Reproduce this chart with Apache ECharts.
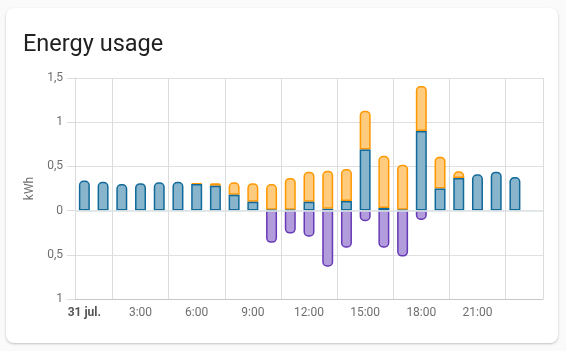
<!DOCTYPE html>
<html>
<head>
<meta charset="utf-8">
<script src="https://cdn.jsdelivr.net/npm/echarts@6/dist/echarts.min.js"></script>
<style>
  html, body { margin: 0; padding: 0; background: #fafafa; }
  #card {
    position: absolute; left: 6px; top: 8px; width: 552px; height: 335px;
    background: #fff; border-radius: 8px;
    box-shadow: 0 1px 2px rgba(0,0,0,0.18), 0 1px 4px rgba(0,0,0,0.06);
  }
  #main { position: absolute; left: 0; top: 0; width: 566px; height: 351px; }
</style>
</head>
<body>
<div id="card"></div>
<div id="main"></div>
<script>
// hourly buckets for 31 jul.
var hours = ['31 jul.', '1:00', '2:00', '3:00', '4:00', '5:00', '6:00', '7:00',
  '8:00', '9:00', '10:00', '11:00', '12:00', '13:00', '14:00', '15:00',
  '16:00', '17:00', '18:00', '19:00', '20:00', '21:00', '22:00', '23:00'];
// kWh from grid
var fromGrid = [0.34, 0.325, 0.30, 0.31, 0.32, 0.325, 0.30, 0.28, 0.18, 0.10, 0.01, 0.01,
  0.10, 0.02, 0.11, 0.69, 0.03, 0.01, 0.90, 0.25, 0.37, 0.41, 0.44, 0.38];
// kWh solar consumed
var fromSolar = [0, 0, 0, 0, 0, 0, 0.01, 0.03, 0.14, 0.21, 0.29, 0.36,
  0.34, 0.43, 0.36, 0.44, 0.59, 0.51, 0.51, 0.36, 0.075, 0, 0, 0];
// kWh returned to grid
var toGrid = [0, 0, 0, 0, 0, 0, 0, 0, 0, 0, -0.365, -0.26,
  -0.295, -0.635, -0.42, -0.12, -0.42, -0.52, -0.105, 0, 0, 0, 0, 0];
var yTicks = { min: -1, max: 1.5, step: 0.5 };

var myChart = echarts.init(document.getElementById('main'));

function noZero(v) { return v === 0 ? '-' : v; }

var option = {
    animation: false,
    textStyle: { fontFamily: 'Roboto' },
    title: {
        text: 'Energy usage',
        left: 23,
        top: 33,
        padding: 0,
        textStyle: { fontFamily: 'Roboto', fontSize: 23.5, fontWeight: 'normal', color: '#212121' }
    },
    grid: { left: 75, right: 23, top: 78, bottom: 52 },
    xAxis: {
        type: 'category',
        data: hours.concat(['']),
        axisLine: { onZero: false, lineStyle: { color: '#c8c8c8' } },
        axisTick: {
            length: 8,
            interval: function (i) { return i % 3 === 2; },
            lineStyle: { color: '#dcdcdc' }
        },
        splitLine: {
            show: true,
            interval: function (i) { return i % 3 === 2; },
            lineStyle: { color: '#dcdcdc' }
        },
        axisLabel: {
            interval: function (i) { return i % 3 === 0 && i < hours.length; },
            margin: 8,
            color: '#6f6f6f',
            fontSize: 12,
            formatter: function (v, i) {
                return i === 0 ? '{b|' + v + '}' : v;
            },
            rich: { b: { fontWeight: 'bold', color: '#555', fontSize: 12 } }
        }
    },
    yAxis: {
        type: 'value',
        min: yTicks.min,
        max: yTicks.max,
        interval: yTicks.step,
        name: 'kWh',
        nameLocation: 'middle',
        nameGap: 33,
        nameTextStyle: { color: '#6f6f6f', fontSize: 12 },
        axisLine: { show: true, lineStyle: { color: '#dcdcdc' } },
        axisTick: { show: true, length: 8, lineStyle: { color: '#dcdcdc' } },
        splitLine: { lineStyle: { color: '#e0e0e0' } },
        axisLabel: {
            margin: 12,
            color: '#6f6f6f',
            fontSize: 12,
            formatter: function (v) { return String(Math.abs(v)).replace('.', ','); }
        }
    },
    series: [{
        name: 'grid',
        type: 'bar',
        stack: 'energy',
        barWidth: 11,
        z: 3,
        data: fromGrid.map(function (v, i) {
            return {
                value: noZero(v),
                itemStyle: { borderRadius: fromSolar[i] === 0 ? [4, 4, 0, 0] : 0 }
            };
        }),
        itemStyle: { color: '#88b4cc', borderColor: '#126a9a', borderWidth: 1.5 }
    }, {
        name: 'solar',
        type: 'bar',
        stack: 'energy',
        barWidth: 11,
        z: 2,
        data: fromSolar.map(noZero),
        itemStyle: { color: '#ffcb7f', borderColor: '#ff9800', borderWidth: 1.5, borderRadius: [4, 4, 0, 0] }
    }, {
        name: 'return',
        type: 'bar',
        stack: 'energy',
        barWidth: 11,
        z: 2,
        data: toGrid.map(noZero),
        itemStyle: { color: '#b39cdb', borderColor: '#673ab7', borderWidth: 1.5, borderRadius: [0, 0, 4, 4] },
        markLine: {
            silent: true,
            symbol: 'none',
            z: 5,
            label: { show: false },
            lineStyle: { type: 'solid', color: 'rgba(222,228,232,0.85)', width: 2 },
            data: [{ yAxis: 0 }]
        }
    }]
};

myChart.setOption(option);
</script>
</body>
</html>
